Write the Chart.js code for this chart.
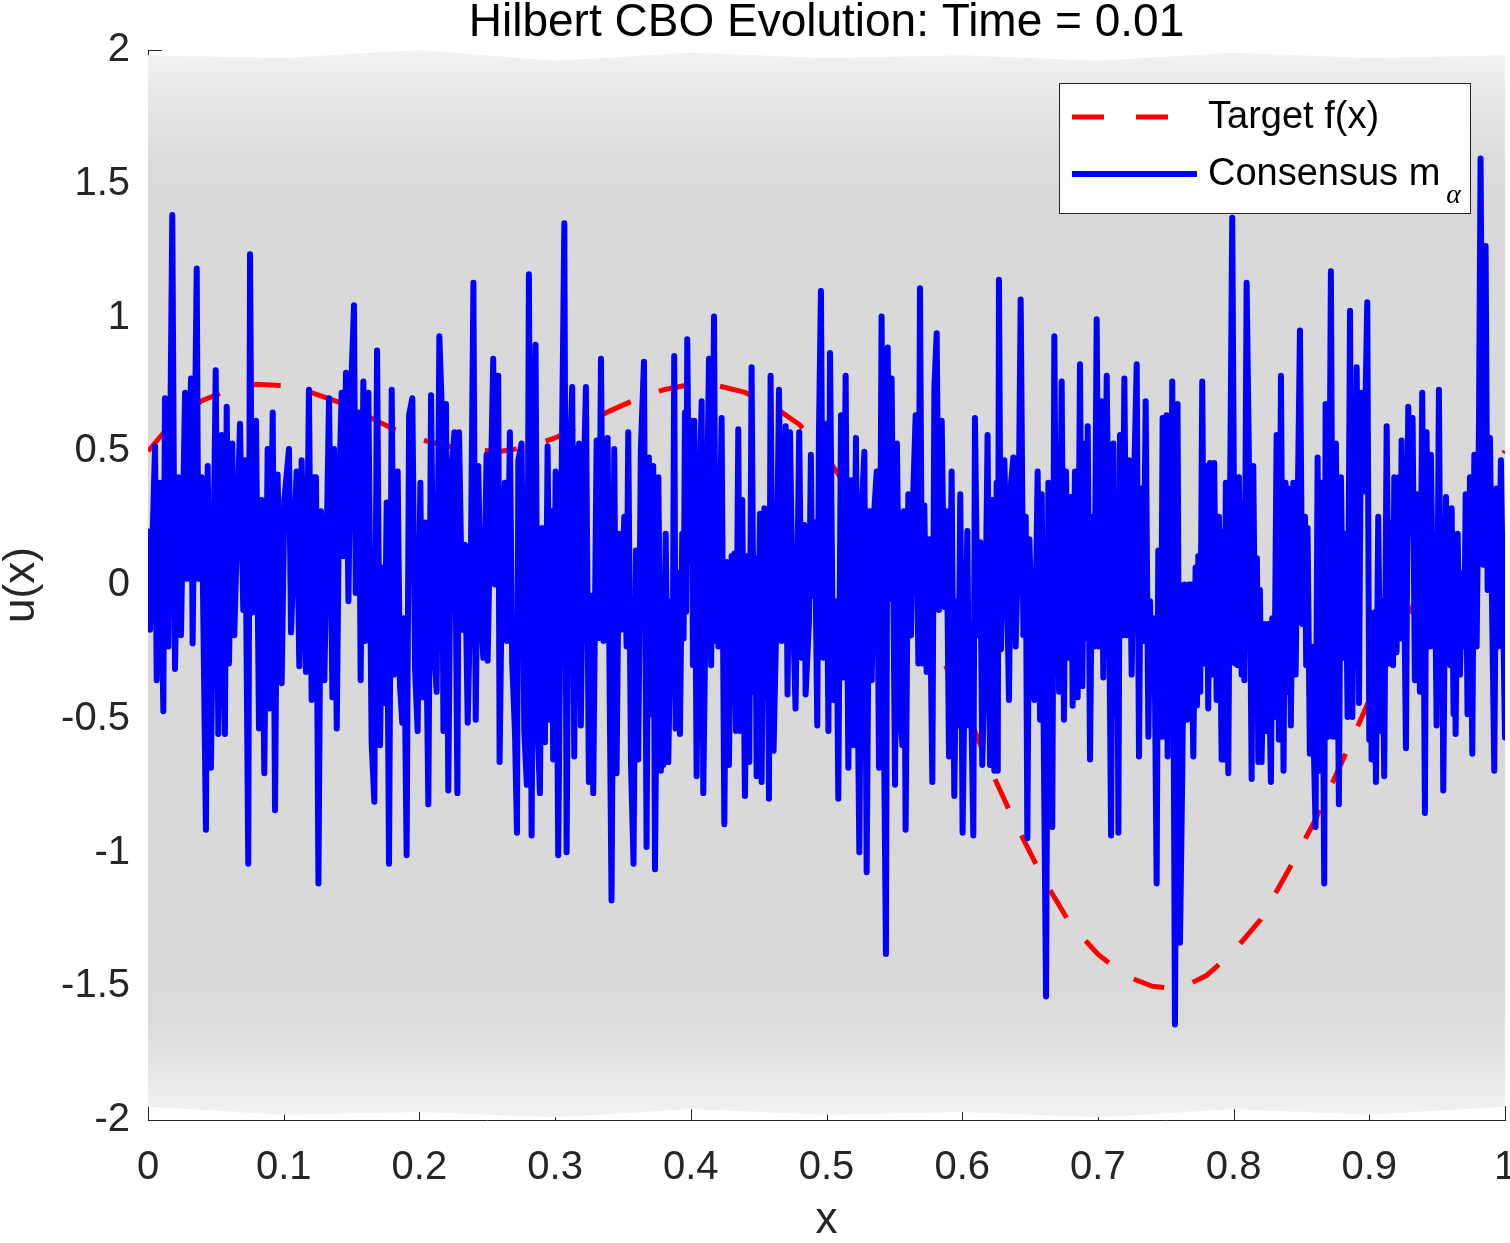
<!DOCTYPE html>
<html>
<head>
    <title>Hilbert CBO Evolution</title>
    <script src="https://cdn.jsdelivr.net/npm/chart.js"></script>
    <style>
        html, body { margin: 0; padding: 0; background: #ffffff; }
    </style>
</head>
<body>
    <canvas id="cboChart" width="1510" height="1243"></canvas>

<script>
// ---------------- data ----------------

// red dashed target f(x)
const targetX = [0, 0.02, 0.04, 0.06, 0.08, 0.10, 0.12, 0.14, 0.16, 0.18, 0.20, 0.22, 0.24, 0.26, 0.28, 0.30, 0.32, 0.34, 0.36, 0.38,
    0.40, 0.42, 0.44, 0.46, 0.48, 0.50, 0.52, 0.54, 0.56, 0.58, 0.60, 0.62, 0.64, 0.66, 0.68, 0.70, 0.72, 0.74, 0.76, 0.78,
    0.80, 0.82, 0.84, 0.86, 0.88, 0.90, 0.92, 0.94, 0.96, 0.98, 1.00];
const targetY = [0.50, 0.62, 0.69, 0.73, 0.75, 0.745, 0.72, 0.685, 0.635, 0.585, 0.545, 0.52, 0.505, 0.50, 0.515, 0.55, 0.60, 0.65, 0.695, 0.73,
    0.75, 0.745, 0.72, 0.67, 0.60, 0.48, 0.33, 0.17, -0.01, -0.22, -0.43, -0.68, -0.90, -1.10, -1.27, -1.38, -1.46, -1.50, -1.51, -1.46,
    -1.37, -1.25, -1.07, -0.88, -0.66, -0.43, -0.20, 0.00, 0.18, 0.35, 0.50];

// grey particle cloud: outer reach of the particles
const particleX  = [0, 0.1, 0.2, 0.3, 0.4, 0.5, 0.6, 0.7, 0.8, 0.9, 1.0];
const particleHi = [1.98, 1.97, 2.00, 1.96, 1.99, 1.97, 1.98, 1.96, 1.99, 1.97, 1.98];
const particleLo = [-1.95, -1.98, -1.97, -1.99, -1.96, -1.98, -1.97, -1.99, -1.96, -1.98, -1.95];

// blue consensus m_alpha, [x, u] pairs, split by x range
const consensusA = [[0,0.20],[0.0015,-0.167],[0.0052,0.519],[0.0064,-0.356],[0.0088,0.382],[0.0113,-0.472],[0.0125,0.698],[0.0150,-0.230],
    [0.0179,1.383],[0.0199,-0.314],[0.0223,0.403],[0.0243,-0.188],[0.0273,0.719],[0.0285,0.023],[0.0317,0.772],[0.0329,-0.219],
    [0.0359,1.183],[0.0371,0.023],[0.0395,0.403],[0.0427,-0.915],[0.0440,0.445],[0.0464,-0.683],[0.0499,0.803],[0.0518,-0.557],
    [0.0543,0.561],[0.0567,-0.557],[0.0580,0.666],[0.0597,-0.293],[0.0621,0.529],[0.0636,-0.188],[0.0678,0.603],[0.0702,-0.093],
    [0.0715,0.466],[0.0739,-1.042],[0.0752,1.236],[0.0769,-0.103],[0.0796,0.614],[0.0818,-0.536],[0.0837,0.318],[0.0857,-0.704],
    [0.0882,0.508],[0.0894,-0.462],[0.0919,0.645],[0.0936,-0.842],[0.0955,0.413],[0.0985,-0.367],[0.1005,0.318],[0.1039,0.508],
    [0.1054,-0.177],[0.1095,0.424],[0.1115,-0.304],[0.1132,0.466],[0.1164,-0.325],[0.1186,0.730],[0.1206,-0.430],[0.1223,0.403]];
const consensusB = [[0.1238,0.403],[0.1256,-1.116],[0.1275,0.276],[0.1300,-0.356],[0.1334,0.698],[0.1359,-0.420],[0.1371,0.508],[0.1391,-0.536],
    [0.1408,0.318],[0.1427,0.719],[0.1440,0.108],[0.1459,0.793],[0.1477,-0.061],[0.1496,0.719],[0.1518,1.046],[0.1531,-0.030],
    [0.1555,0.645],[0.1567,-0.356],[0.1587,0.761],[0.1599,-0.209],[0.1624,0.719],[0.1648,-0.588],[0.1668,-0.810],[0.1688,0.877],
    [0.1710,-0.599],[0.1727,0.065],[0.1742,-0.441],[0.1759,0.308],[0.1776,-1.042],[0.1796,0.730],[0.1813,-0.335],[0.1840,0.424],
    [0.1857,-0.378],[0.1874,-0.515],[0.1887,-0.124],[0.1906,-1.010],[0.1924,0.635],[0.1948,0.698],[0.1968,-0.314],[0.1987,-0.546],
    [0.2007,0.382],[0.2022,-0.420],[0.2041,0.234],[0.2066,-0.820],[0.2086,0.709],[0.2105,-0.209],[0.2127,-0.399],[0.2147,0.930],
    [0.2164,0.677],[0.2177,-0.546],[0.2196,0.677],[0.2213,-0.768],[0.2233,0.403],[0.2258,0.571],[0.2280,-0.778],[0.2292,0.571],
    [0.2317,-0.167],[0.2336,0.150],[0.2356,-0.515],[0.2378,0.023],[0.2398,1.130],[0.2415,-0.504],[0.2434,0.445],[0.2452,-0.082],[0.2471,-0.272]];
const consensusC = [[0.2495,0.487],[0.2503,-0.283],[0.2520,0.192],[0.2544,0.846],[0.2557,0.002],[0.2581,0.782],[0.2591,-0.662],[0.2611,0.150],
    [0.2630,0.382],[0.2645,-0.209],[0.2667,0.571],[0.2684,-0.293],[0.2704,-0.546],[0.2719,-0.926],[0.2729,0.466],[0.2753,0.529],
    [0.2773,-0.546],[0.2792,-0.747],[0.2807,1.162],[0.2827,-0.936],[0.2844,0.529],[0.2856,0.898],[0.2871,-0.525],[0.2888,-0.778],
    [0.2905,0.213],[0.2925,-0.588],[0.2945,0.519],[0.2962,-0.504],[0.2974,0.276],[0.2986,-0.652],[0.3004,0.424],[0.3023,-1.010],
    [0.3048,0.403],[0.3068,1.352],[0.3085,-0.999],[0.3102,0.361],[0.3126,0.740],[0.3141,-0.641],[0.3158,0.466],[0.3176,0.529],
    [0.3190,-0.525],[0.3208,0.318],[0.3227,0.740],[0.3249,-0.736],[0.3264,-0.040],[0.3281,-0.778],[0.3306,0.540],[0.3323,-0.198],
    [0.3338,0.846],[0.3357,-0.209],[0.3372,-0.019],[0.3387,0.550],[0.3404,-0.504],[0.3416,-1.179],[0.3436,0.508],[0.3453,-0.704],
    [0.3470,0.192],[0.3485,-0.167],[0.3510,0.255],[0.3527,-0.230],[0.3539,0.571],[0.3559,-0.662],[0.3578,-1.042],[0.3596,0.129],
    [0.3613,-0.652],[0.3632,0.508],[0.3655,0.835],[0.3674,-0.979],[0.3691,0.477],[0.3711,-0.483],[0.3723,0.445],[0.3736,-1.063]];
const consensusD = [[0.3761,0.403],[0.3780,-0.694],[0.3788,-0.05],[0.3797,-0.673],[0.3815,0.192],[0.3834,-0.662],[0.3854,-0.061],[0.3866,-0.4],
    [0.3878,0.856],[0.3888,-0.536],[0.3908,0.044],[0.3920,-0.557],[0.3937,0.192],[0.3947,-0.2],[0.3957,0.645],[0.3965,-0.1],
    [0.3974,0.919],[0.3989,0.086],[0.4006,0.614],[0.4016,-0.3],[0.4026,0.614],[0.4043,-0.715],[0.4063,0.300],[0.4080,0.687],
    [0.4092,-0.778],[0.4109,-0.100],[0.4134,0.846],[0.4150,-0.300],[0.4171,1.004],[0.4185,-0.209],[0.4194,0.300],[0.4203,-0.230],
    [0.4227,0.624],[0.4247,-0.894],[0.4264,0.086],[0.4281,-0.673],[0.4301,0.108],[0.4311,-0.400],[0.4321,0.118],[0.4333,-0.546],
    [0.4350,0.582],[0.4362,-0.546],[0.4379,0.318],[0.4399,-0.789],[0.4419,0.108],[0.4431,-0.662],[0.4448,0.814],[0.4465,-0.399],
    [0.4475,0.100],[0.4485,-0.715],[0.4510,0.266],[0.4522,-0.736],[0.4542,0.287],[0.4559,-0.399],[0.4567,0.200],[0.4576,-0.799],
    [0.4588,0.782],[0.4610,-0.620],[0.4628,-0.188],[0.4650,0.730],[0.4669,-0.209],[0.4699,0.593],[0.4713,-0.409],[0.4731,0.571],
    [0.4748,0.002],[0.4772,-0.462],[0.4799,0.571],[0.4817,-0.272],[0.4836,0.224],[0.4846,-0.409],[0.4871,-0.135],[0.4885,0.487],
    [0.4895,-0.040],[0.4915,0.234],[0.4932,-0.525],[0.4944,0.550],[0.4959,1.099],[0.4976,-0.272]];
const consensusE = [[0.4996,0.603],[0.5014,-0.546],[0.5026,0.867],[0.5050,-0.430],[0.5075,-0.061],[0.5087,-0.799],[0.5107,0.635],[0.5124,-0.346],
    [0.5141,0.782],[0.5161,-0.683],[0.5181,0.392],[0.5198,-0.599],[0.5217,0.550],[0.5230,-0.399],[0.5242,-0.999],[0.5259,0.276],
    [0.5279,0.498],[0.5296,-1.074],[0.5316,0.276],[0.5333,-0.356],[0.5352,0.276],[0.5370,0.424],[0.5387,-0.683],[0.5406,1.004],
    [0.5426,-0.694],[0.5438,-1.379],[0.5451,0.888],[0.5470,-0.051],[0.5480,0.772],[0.5505,-0.747],[0.5519,0.529],[0.5542,-0.483],
    [0.5559,-0.599],[0.5569,0.276],[0.5583,-0.915],[0.5603,0.339],[0.5623,-0.188],[0.5635,0.276],[0.5657,0.635],[0.5677,-0.293],
    [0.5689,1.109],[0.5706,-0.293],[0.5721,0.297],[0.5738,-0.325],[0.5758,0.171],[0.5780,-0.736],[0.5795,0.740],[0.5812,0.941],
    [0.5829,-0.093],[0.5849,0.614],[0.5868,-0.082],[0.5885,0.276],[0.5903,-0.641],[0.5922,0.424],[0.5942,-0.789],[0.5959,-0.061],
    [0.5971,-0.525],[0.5986,0.339],[0.6003,-0.926],[0.6020,-0.272],[0.6038,0.202],[0.6050,-0.525],[0.6065,-0.399],[0.6082,-0.936],
    [0.6094,0.624],[0.6114,-0.188],[0.6133,0.160],[0.6148,-0.673],[0.6168,-0.251],[0.6187,0.561],[0.6205,-0.673],[0.6222,0.318],[0.6237,-0.694]];
const consensusF = [[0.6254,0.382],[0.6262,-0.694],[0.6271,1.141],[0.6286,-0.240],[0.6311,0.466],[0.6328,0.065],[0.6345,-0.430],[0.6360,0.382],
    [0.6377,0.477],[0.6394,-0.230],[0.6414,0.171],[0.6431,1.067],[0.6451,-0.188],[0.6468,0.255],[0.6480,-0.947],[0.6495,0.171],
    [0.6512,-0.124],[0.6532,-0.430],[0.6556,0.424],[0.6574,-0.504],[0.6586,0.339],[0.6603,-0.694],[0.6618,-1.538],[0.6635,0.382],
    [0.6655,-0.483],[0.6664,-0.905],[0.6679,0.930],[0.6696,-0.272],[0.6705,0.100],[0.6714,-0.399],[0.6733,0.761],[0.6750,-0.504],
    [0.6765,0.424],[0.6782,-0.272],[0.6802,0.329],[0.6814,-0.451],[0.6831,0.424],[0.6851,-0.420],[0.6868,0.825],[0.6885,-0.378],
    [0.6905,0.529],[0.6915,-0.200],[0.6925,0.593],[0.6942,-0.652],[0.6959,0.255],[0.6974,-0.230],[0.6991,0.993],[0.7008,-0.230],
    [0.7023,0.687],[0.7040,-0.346],[0.7065,0.782],[0.7082,-0.019],[0.7097,-0.936],[0.7114,0.529],[0.7131,-0.483],[0.7141,0.200],
    [0.7151,-0.926],[0.7163,0.561],[0.7180,-0.188],[0.7195,0.772],[0.7212,-0.188],[0.7229,0.466],[0.7249,-0.335],[0.7269,0.445],
    [0.7286,0.825],[0.7303,-0.641],[0.7318,0.361],[0.7335,-0.209],[0.7352,0.687],[0.7372,-0.567],[0.7384,-0.061],[0.7401,-0.399],
    [0.7416,-0.124],[0.7433,-1.116],[0.7445,0.129],[0.7463,-0.567],[0.7477,0.624],[0.7490,-0.567]];
const consensusG = [[0.7506,0.635],[0.7514,-0.641],[0.7523,0.571],[0.7536,-0.200],[0.7548,0.761],[0.7568,-1.643],[0.7587,0.677],[0.7605,-1.337],
    [0.7622,-0.694],[0.7636,0.002],[0.7654,-0.504],[0.7671,0.002],[0.7678,-0.500],[0.7686,0.002],[0.7703,-0.641],[0.7720,0.065],
    [0.7730,-0.450],[0.7740,0.108],[0.7754,-0.399],[0.7769,0.761],[0.7784,-0.293],[0.7801,0.445],[0.7813,-0.462],[0.7826,0.456],
    [0.7838,-0.335],[0.7857,0.456],[0.7875,-0.430],[0.7892,0.255],[0.7912,-0.652],[0.7920,0.200],[0.7929,-0.652],[0.7943,0.382],
    [0.7961,-0.704],[0.7975,0.392],[0.7990,1.373],[0.8010,-0.293],[0.8022,0.392],[0.8030,-0.300],[0.8039,0.403],[0.8059,-0.335],
    [0.8069,0.300],[0.8079,-0.356],[0.8096,1.130],[0.8113,0.466],[0.8133,-0.725],[0.8145,0.445],[0.8162,-0.451],[0.8172,0.100],
    [0.8182,-0.662],[0.8194,-0.019],[0.8206,-0.662],[0.8226,-0.146],[0.8243,-0.546],[0.8255,-0.146],[0.8275,-0.736],[0.8285,-0.124],
    [0.8300,-0.493],[0.8317,0.561],[0.8334,-0.578],[0.8349,0.782],[0.8368,-0.694],[0.8383,0.382],[0.8393,-0.400],[0.8403,0.361],
    [0.8422,-0.525],[0.8440,0.382],[0.8457,-0.335],[0.8471,0.234],[0.8489,0.951],[0.8506,-0.146],[0.8526,0.255],[0.8535,-0.300],
    [0.8545,0.213],[0.8562,-0.631],[0.8575,-0.230],[0.8594,-0.673],[0.8604,-0.905],[0.8619,0.477],[0.8636,-0.694],[0.8648,0.382],
    [0.8668,-1.116],[0.8678,0.677],[0.8697,-0.567],[0.8717,1.173],[0.8734,-0.567]];
const consensusH = [[0.8754,0.529],[0.8776,-0.820],[0.8791,0.403],[0.8808,-0.272],[0.8826,0.192],[0.8840,-0.493],[0.8858,1.025],[0.8875,-0.493],
    [0.8889,0.445],[0.8898,-0.2],[0.8907,0.814],[0.8924,-0.441],[0.8939,0.719],[0.8960,0.350],[0.8985,1.057],[0.9000,-0.578],
    [0.9009,-0.2],[0.9017,-0.652],[0.9037,-0.103],[0.9049,-0.736],[0.9066,0.255],[0.9083,-0.546],[0.9096,-0.061],[0.9110,-0.715],
    [0.9128,0.593],[0.9145,-0.293],[0.9165,0.234],[0.9175,-0.300],[0.9184,0.403],[0.9201,-0.251],[0.9219,0.403],[0.9228,-0.200],
    [0.9238,0.540],[0.9255,0.086],[0.9270,-0.610],[0.9287,0.666],[0.9307,0.192],[0.9319,0.624],[0.9336,-0.356],[0.9356,0.339],
    [0.9373,-0.399],[0.9390,0.719],[0.9410,-0.852],[0.9422,0.571],[0.9440,-0.230],[0.9454,0.487],[0.9472,-0.230],[0.9484,0.100],
    [0.9496,-0.525],[0.9513,0.730],[0.9528,-0.420],[0.9537,0.0],[0.9545,-0.768],[0.9565,0.329],[0.9582,-0.251],[0.9589,0.234],
    [0.9598,-0.300],[0.9607,0.287],[0.9621,-0.483],[0.9628,0.100],[0.9636,-0.557],[0.9651,0.192],[0.9668,-0.335],[0.9685,0.044],
    [0.9700,-0.230],[0.9710,0.339],[0.9724,-0.483],[0.9742,0.403],[0.9759,-0.631],[0.9774,0.487],[0.9791,-0.230],[0.9808,0.593],
    [0.9820,1.594],[0.9840,0.076],[0.9857,1.267],[0.9872,-0.019],[0.9889,0.550],[0.9901,0.065],[0.9921,-0.694],[0.9936,0.361],
    [0.9950,-0.230],[0.9970,0.466],[1.0,-0.570]];

// axis ticks
const xTicksStep = 0.1;
const yTicksStep = 0.5;

// texts
const chartTitle = 'Hilbert CBO Evolution: Time = 0.01';
const legendLabels = ['Target f(x)', 'Consensus m'];
const legendSub = '\u03B1';

// ---------------- chart ----------------
const FONT = '"Liberation Sans", Arial, Helvetica, sans-serif';
Chart.defaults.font.family = FONT;

const consensus = [].concat(consensusA, consensusB, consensusC, consensusD, consensusE, consensusF, consensusG, consensusH);

// fades the grey band towards white at its ragged outer edge
function bandFill(context) {
    const chart = context.chart;
    if (!chart.chartArea) return '#d9d9d9';
    const y = chart.scales.y;
    const top = y.getPixelForValue(2), bot = y.getPixelForValue(-2);
    const g = chart.ctx.createLinearGradient(0, top, 0, bot);
    g.addColorStop(0, '#f3f3f3');
    g.addColorStop(0.04, '#e8e8e8');
    g.addColorStop(0.10, '#dcdcdc');
    g.addColorStop(0.14, '#d9d9d9');
    g.addColorStop(0.86, '#d9d9d9');
    g.addColorStop(0.91, '#dcdcdc');
    g.addColorStop(0.96, '#e8e8e8');
    g.addColorStop(1, '#f3f3f3');
    return g;
}

// MATLAB style ticks pointing into the axes
const inwardTicks = {
    id: 'inwardTicks',
    beforeDatasetsDraw(chart) {
        const {ctx, chartArea, scales} = chart;
        ctx.save();
        ctx.strokeStyle = '#262626';
        ctx.lineWidth = 1;
        ctx.beginPath();
        scales.x.ticks.forEach(t => {
            const px = Math.round(scales.x.getPixelForValue(t.value)) + 0.5;
            ctx.moveTo(px, chartArea.bottom);
            ctx.lineTo(px, chartArea.bottom - 14);
        });
        scales.y.ticks.forEach(t => {
            const py = Math.round(scales.y.getPixelForValue(t.value)) + 0.5;
            ctx.moveTo(chartArea.left, py);
            ctx.lineTo(chartArea.left + 14, py);
        });
        ctx.stroke();
        ctx.restore();
    }
};

// boxed legend in the top right corner (needs the subscript alpha)
const legendBox = {
    id: 'legendBox',
    afterDatasetsDraw(chart) {
        const {ctx, chartArea} = chart;
        const sets = [chart.data.datasets[2], chart.data.datasets[3]];
        const w = 411, h = 130;
        const left = chartArea.right - 35 - w;
        const top = chartArea.top + 33;
        ctx.save();
        ctx.fillStyle = '#ffffff';
        ctx.fillRect(left, top, w, h);
        ctx.strokeStyle = '#262626';
        ctx.lineWidth = 1;
        ctx.strokeRect(left + 0.5, top + 0.5, w, h);

        const labelFont = '38px ' + FONT;
        ctx.font = labelFont;
        ctx.textBaseline = 'middle';
        ctx.textAlign = 'left';
        sets.forEach((ds, i) => {
            const yy = top + 34 + i * 57;
            ctx.beginPath();
            ctx.strokeStyle = ds.borderColor;
            ctx.lineWidth = ds.borderWidth;
            ctx.lineCap = 'butt';
            if (ds.borderDash) {
                ctx.setLineDash([32, 32]);
                ctx.moveTo(left + 13, yy);
                ctx.lineTo(left + 109, yy);
            } else {
                ctx.moveTo(left + 13, yy);
                ctx.lineTo(left + 138, yy);
            }
            ctx.stroke();
            ctx.setLineDash([]);
            ctx.fillStyle = '#000000';
            ctx.fillText(legendLabels[i], left + 149, yy + 1);
            if (i === 1) {
                const tw = ctx.measureText(legendLabels[i]).width;
                ctx.font = 'italic 28px "Liberation Serif", "DejaVu Serif", serif';
                ctx.fillText(legendSub, left + 149 + tw + 6, yy + 22);
                ctx.font = labelFont;
            }
        });
        ctx.restore();
    }
};

new Chart(document.getElementById('cboChart').getContext('2d'), {
    type: 'line',
    data: {
        datasets: [
            {
                label: 'particles',
                data: particleX.map((x, i) => ({x: x, y: particleHi[i]})),
                borderWidth: 0,
                pointRadius: 0,
                fill: '+1',
                backgroundColor: bandFill,
                order: 3
            },
            {
                label: 'particles low',
                data: particleX.map((x, i) => ({x: x, y: particleLo[i]})),
                borderWidth: 0,
                pointRadius: 0,
                fill: false,
                order: 3
            },
            {
                label: legendLabels[0],
                data: targetX.map((x, i) => ({x: x, y: targetY[i]})),
                borderColor: '#ff0000',
                borderWidth: 5,
                borderDash: [32, 30],
                pointRadius: 0,
                fill: false,
                tension: 0,
                order: 1
            },
            {
                label: legendLabels[1],
                data: consensus.map(p => ({x: p[0], y: p[1]})),
                borderColor: '#0000ff',
                borderWidth: 6,
                borderJoinStyle: 'round',
                borderCapStyle: 'round',
                pointRadius: 0,
                fill: false,
                tension: 0,
                order: 0
            }
        ]
    },
    options: {
        responsive: false,
        animation: false,
        layout: { padding: { left: 0, right: 5, top: 0, bottom: 0 } },
        plugins: {
            legend: { display: false },
            tooltip: { enabled: false },
            title: {
                display: true,
                text: chartTitle,
                fullSize: false,
                color: '#000000',
                font: { family: FONT, size: 46, weight: 'normal', lineHeight: 1 },
                padding: { top: 0, bottom: 4 }
            }
        },
        scales: {
            x: {
                type: 'linear',
                min: 0,
                max: 1,
                ticks: {
                    stepSize: xTicksStep,
                    autoSkip: false,
                    maxRotation: 0,
                    padding: 24,
                    color: '#262626',
                    font: { size: 40 },
                    callback: v => String(+v.toFixed(1))
                },
                grid: { display: false, drawTicks: false },
                border: { display: true, color: '#262626', width: 1 },
                title: { display: true, text: 'x', color: '#262626', font: { size: 44, lineHeight: 1 }, padding: 0 },
                afterFit: s => { s.height = 123; s.paddingLeft = 0; s.paddingRight = 0; }
            },
            y: {
                min: -2,
                max: 2,
                ticks: {
                    stepSize: yTicksStep,
                    padding: 18,
                    color: '#262626',
                    font: { size: 40 },
                    callback: v => String(+v.toFixed(1))
                },
                grid: { display: false, drawTicks: false },
                border: { display: true, color: '#262626', width: 1 },
                title: { display: true, text: 'u(x)', color: '#262626', font: { size: 44, lineHeight: 1 }, padding: 0 },
                afterFit: s => { s.width = 148; s.paddingTop = 0; s.paddingBottom = 0; }
            }
        }
    },
    plugins: [inwardTicks, legendBox]
});
</script>
</body>
</html>
